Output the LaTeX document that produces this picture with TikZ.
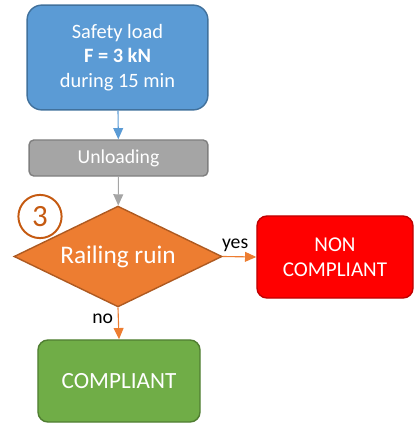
\documentclass[tikz,border=0pt]{standalone}
\usepackage{fontspec}
\setmainfont{Carlito}
\usetikzlibrary{shapes.geometric,arrows.meta}
\definecolor{loadblue}{HTML}{5B9BD5}
\definecolor{loadblueline}{HTML}{41719C}
\definecolor{stepgray}{HTML}{A5A5A5}
\definecolor{stepgrayline}{HTML}{7F7F7F}
\definecolor{ruinorange}{HTML}{ED7D31}
\definecolor{ruinorangeline}{HTML}{AE5A21}
\definecolor{numbrown}{HTML}{C55A11}
\definecolor{nokred}{HTML}{FF0000}
\definecolor{nokredline}{HTML}{C00000}
\definecolor{okgreen}{HTML}{70AD47}
\definecolor{okgreenline}{HTML}{507E32}
\tikzset{
	box/.style={rectangle, line width=1pt, text=white, align=center, inner sep=0pt},
	flow/.style={line width=0.8pt, -{Triangle[length=8pt,width=7pt]}},
}
\begin{document}
\begin{tikzpicture}[x=0.025cm,y=-0.025cm]
	\useasboundingbox (0,0) rectangle (414,423);
	\node[box, fill=loadblue, draw=loadblueline, rounded corners=0.37cm, minimum width=4.52cm, minimum height=2.62cm, font=\fontsize{14.5}{17.4}\selectfont] (load) at (117.5,57.5) {Safety load\\\textbf{F = 3 kN}\\during 15 min};
	\node[box, fill=stepgray, draw=stepgrayline, rounded corners=0.12cm, minimum width=4.47cm, minimum height=0.9cm, font=\fontsize{14}{16}\selectfont] (unload) at (118.5,158) {Unloading};
	\node[diamond, fill=ruinorange, draw=ruinorangeline, line width=1pt, text=white, inner sep=0pt, aspect=2.06, minimum width=5.2cm, minimum height=2.52cm, font=\fontsize{18}{20}\selectfont] (ruin) at (118,256.5) {Railing ruin};
	\node[circle, draw=numbrown, line width=1.4pt, text=numbrown, minimum size=1.08cm, inner sep=0pt, font=\fontsize{22}{24}\selectfont] (num) at (40,216.5) {3};
	\node[box, fill=nokred, draw=nokredline, rounded corners=0.25cm, minimum width=3.9cm, minimum height=2.05cm, font=\fontsize{15}{17.7}\selectfont] (nok) at (335,257) {NON\\COMPLIANT};
	\node[box, fill=okgreen, draw=okgreenline, rounded corners=0.25cm, minimum width=4.05cm, minimum height=2.05cm, font=\fontsize{16.5}{18}\selectfont] (ok) at (119,381) {COMPLIANT};
	\draw[flow, draw=loadblue] (load) -- (unload);
	\draw[flow, draw=stepgray] (unload) -- (ruin);
	\draw[flow, draw=ruinorange] (ruin.east) -- (nok.west) node[pos=0.37, above, text=black, font=\fontsize{14}{16}\selectfont] (yes) {yes};
	\draw[flow, draw=ruinorange] (ruin.south) -- (ok.north) node[pos=0.35, left, text=black, font=\fontsize{14}{16}\selectfont] (no) {no};
\end{tikzpicture}
\end{document}
